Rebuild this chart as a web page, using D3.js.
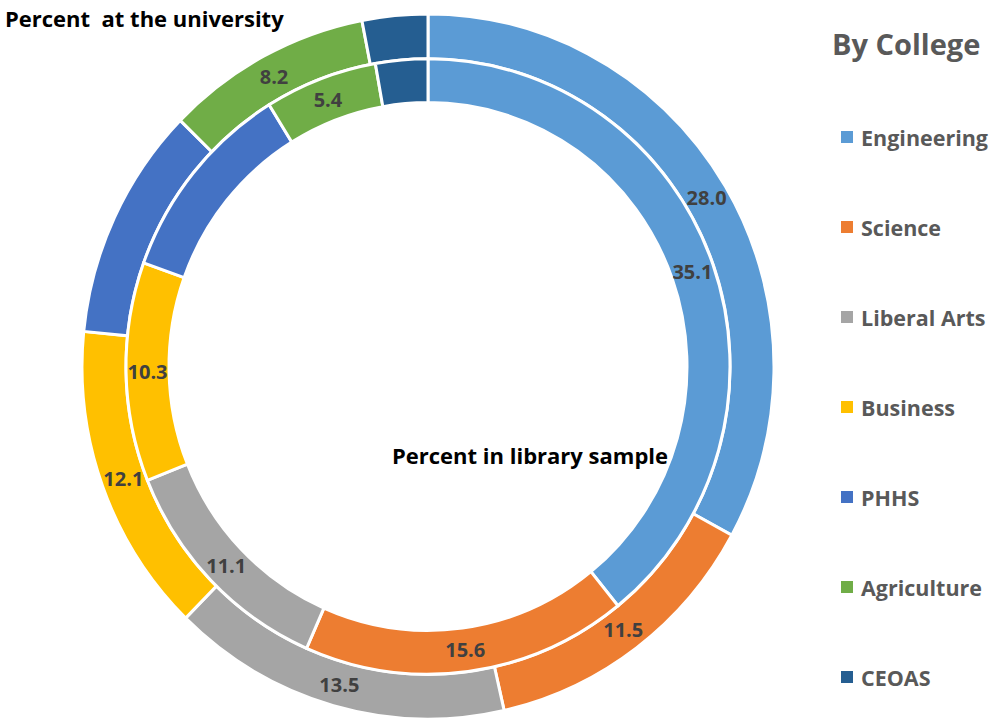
<!DOCTYPE html>
<html>
<head>
<meta charset="utf-8">
<script src="https://cdn.jsdelivr.net/npm/d3@7"></script>
<style>
  html, body { margin: 0; padding: 0; background: #fff; }
  svg { display: block; }
  text { font-family: "Open Sans", Lato, sans-serif; font-weight: bold; }
</style>
</head>
<body>
<svg id="chart" width="1006" height="722"></svg>
<script>
// ---- data ----
const colleges = ["Engineering", "Science", "Liberal Arts", "Business", "PHHS", "Agriculture", "CEOAS"];
const universityPct = [28.0, 11.5, 13.5, 12.1, 9.1, 8.2, 2.6];   // outer ring
const libraryPct    = [35.1, 15.6, 11.1, 10.3, 9.6, 5.4, 2.5];   // inner ring
const colors = ["#5B9BD5", "#ED7D31", "#A5A5A5", "#FFC000", "#4472C4", "#70AD47", "#255E91"];
const unlabeled = ["PHHS", "CEOAS"];

const svg = d3.select("#chart");
const cx = 428, cy = 366.5, sy = 1.019;

const color = d3.scaleOrdinal().domain(colleges).range(colors);
const pie = d3.pie().sort(null).value(d => d.v);

const rings = [
  { data: universityPct, inner: 302, outer: 346 },
  { data: libraryPct,    inner: 259, outer: 302 }
];

const g = svg.append("g").attr("transform", `translate(${cx},${cy}) scale(1,${sy})`);
const lg = svg.append("g").attr("transform", `translate(${cx},${cy})`);

rings.forEach(ring => {
  const arc = d3.arc().innerRadius(ring.inner).outerRadius(ring.outer);
  const arcs = pie(colleges.map((c, i) => ({ c, v: ring.data[i] })));
  g.selectAll(null).data(arcs).enter().append("path")
    .attr("d", arc)
    .attr("fill", d => color(d.data.c))
    .attr("stroke", "#fff")
    .attr("stroke-width", 3)
    .attr("vector-effect", "non-scaling-stroke");
  lg.selectAll(null).data(arcs.filter(d => !unlabeled.includes(d.data.c))).enter().append("text")
    .attr("x", d => arc.centroid(d)[0])
    .attr("y", d => arc.centroid(d)[1] * sy)
    .attr("text-anchor", "middle")
    .attr("dominant-baseline", "central")
    .attr("font-size", 20)
    .attr("fill", "#404040")
    .text(d => d3.format(".1f")(d.data.v));
});

// titles
svg.append("text").attr("x", 5).attr("y", 27).attr("font-size", 22).attr("fill", "#000")
  .attr("xml:space", "preserve").text("Percent  at the university");
svg.append("text").attr("x", 392).attr("y", 464).attr("font-size", 22).attr("fill", "#000")
  .text("Percent in library sample");

// legend
svg.append("text").attr("x", 832).attr("y", 55).attr("font-size", 29).attr("fill", "#595959")
  .text("By College");
const ly = d3.scalePoint().domain(colleges).range([137, 677]);
const leg = svg.selectAll(".leg").data(colleges).enter().append("g")
  .attr("transform", c => `translate(841,${ly(c)})`);
leg.append("rect").attr("x", 0).attr("y", -6).attr("width", 12).attr("height", 12)
  .attr("fill", c => color(c));
leg.append("text").attr("x", 20).attr("y", 0).attr("dominant-baseline", "central")
  .attr("font-size", 21.5).attr("fill", "#595959").text(c => c);
</script>
</body>
</html>
